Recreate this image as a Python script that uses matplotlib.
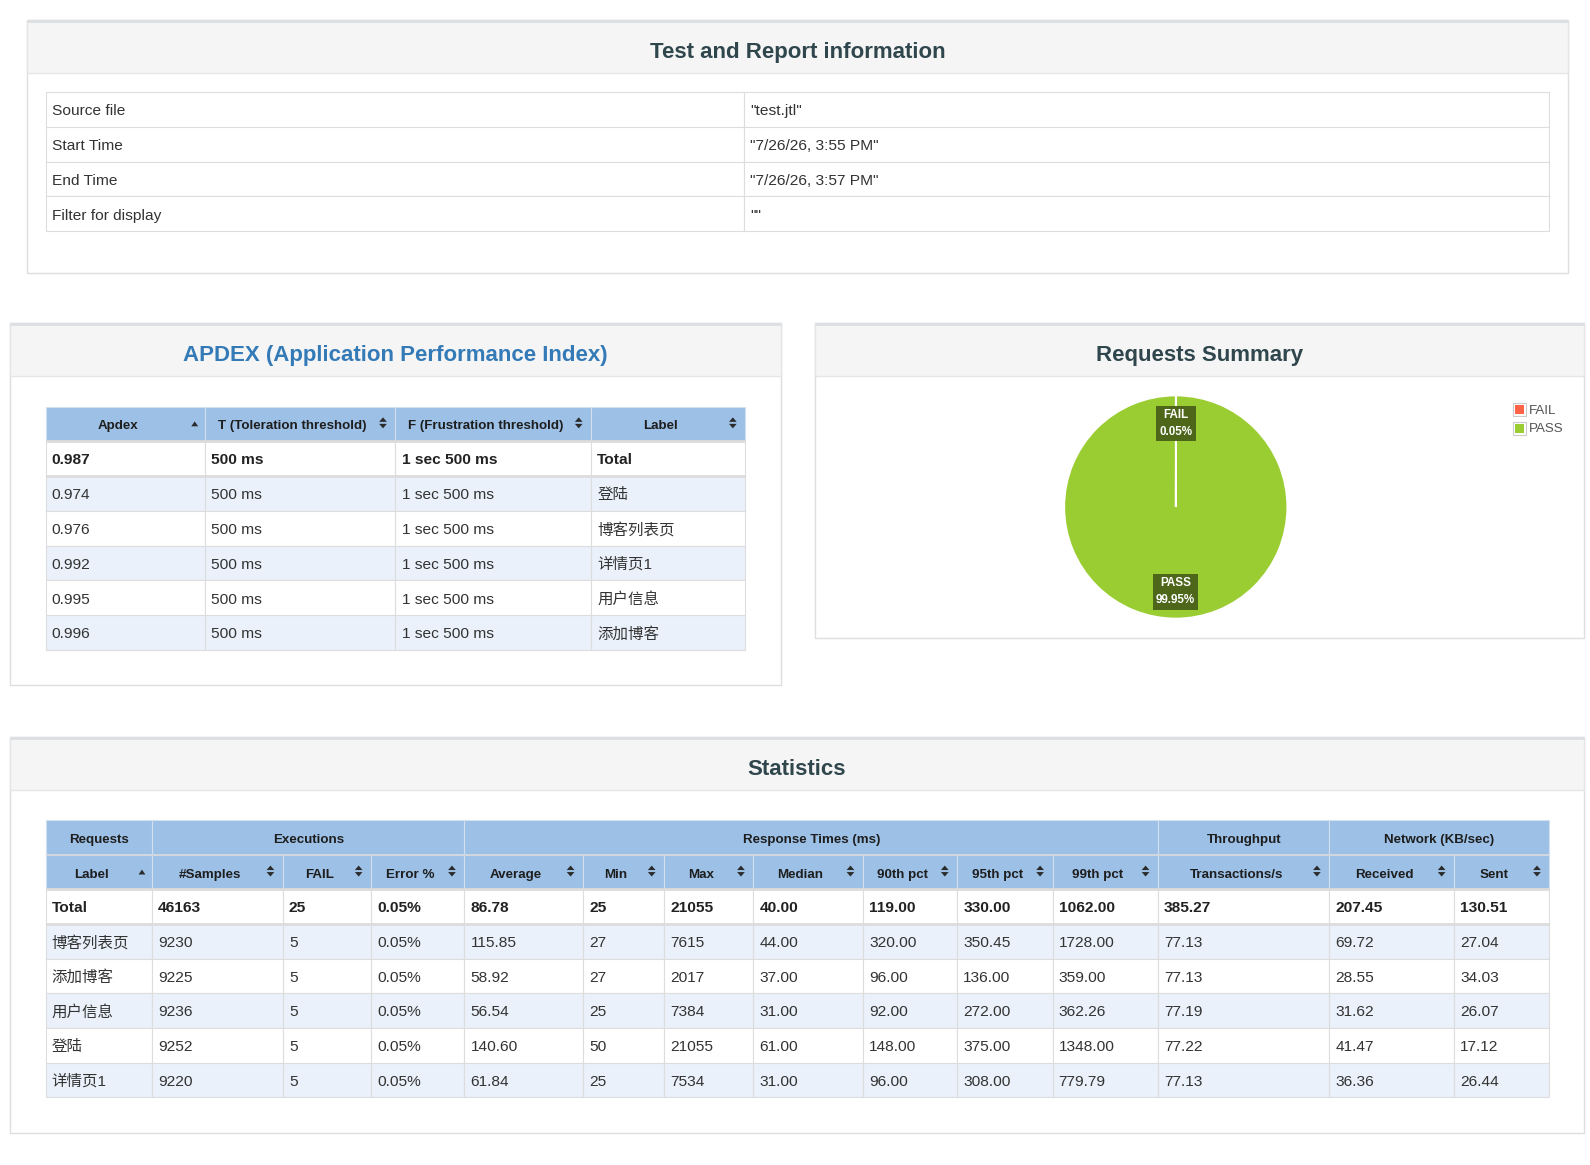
import numpy as np
import matplotlib
matplotlib.use('Agg')
import matplotlib.pyplot as plt
from matplotlib.patches import Rectangle, Polygon

plt.rcParams['font.family'] = ['Liberation Sans', 'Noto Sans CJK SC', 'DejaVu Sans']

W, H = 1590, 1165
S = 1590 / 1568          # layout below is measured on a 1568-wide grid
DW, DH = W / S, H / S

# ---- data ----
info_keys = ['Source file', 'Start Time', 'End Time', 'Filter for display']
info_values = ['"test.jtl"', '"7/26/26, 3:55 PM"', '"7/26/26, 3:57 PM"', '""']

apdex_headers = ['Apdex', 'T (Toleration threshold)', 'F (Frustration threshold)', 'Label']
apdex_sort = ['up', 'both', 'both', 'both']
apdex_scores = [0.987, 0.974, 0.976, 0.992, 0.995, 0.996]
apdex_t = ['500 ms'] * 6
apdex_f = ['1 sec 500 ms'] * 6
apdex_labels = ['Total', '登陆', '博客列表页', '详情页1', '用户信息', '添加博客']

summary_labels = ['FAIL', 'PASS']
summary_counts = [25, 46138]
summary_colors = ['#ff6347', '#9acd32']

stats_groups = ['Requests', 'Executions', 'Response Times (ms)', 'Throughput', 'Network (KB/sec)']
stats_group_span = [1, 3, 7, 1, 2]
stats_headers = ['Label', '#Samples', 'FAIL', 'Error %', 'Average', 'Min', 'Max', 'Median',
                 '90th pct', '95th pct', '99th pct', 'Transactions/s', 'Received', 'Sent']
stats_sort = ['up'] + ['both'] * 13
stats_labels = ['Total', '博客列表页', '添加博客', '用户信息', '登陆', '详情页1']
stats_samples = [46163, 9230, 9225, 9236, 9252, 9220]
stats_fail = [25, 5, 5, 5, 5, 5]
stats_error = [0.05, 0.05, 0.05, 0.05, 0.05, 0.05]
stats_avg = [86.78, 115.85, 58.92, 56.54, 140.60, 61.84]
stats_min = [25, 27, 27, 25, 50, 25]
stats_max = [21055, 7615, 2017, 7384, 21055, 7534]
stats_median = [40.00, 44.00, 37.00, 31.00, 61.00, 31.00]
stats_p90 = [119.00, 320.00, 96.00, 92.00, 148.00, 96.00]
stats_p95 = [330.00, 350.45, 136.00, 272.00, 375.00, 308.00]
stats_p99 = [1062.00, 1728.00, 359.00, 362.26, 1348.00, 779.79]
stats_tps = [385.27, 77.13, 77.13, 77.19, 77.22, 77.13]
stats_recv = [207.45, 69.72, 28.55, 31.62, 41.47, 36.36]
stats_sent = [130.51, 27.04, 34.03, 26.07, 17.12, 26.44]

# ---- style ----
TITLE_C = '#2f464d'
TEXT_C = '#333333'
HEAD_BG = '#9cc0e6'
ODD_BG = '#eaf1fa'
LINE_C = '#dddddd'

fig = plt.figure(figsize=(W / 100, H / 100), dpi=100)
ax = fig.add_axes([0, 0, 1, 1])
ax.set_xlim(0, DW)
ax.set_ylim(DH, 0)
ax.axis('off')


def fs(pt):
    return pt * S


def panel(x0, y0, x1, y1, title, color=TITLE_C, hdr=52):
    ax.add_patch(Rectangle((x0, y0), x1 - x0, y1 - y0, facecolor='white',
                           edgecolor='#dedede', lw=1))
    ax.add_patch(Rectangle((x0, y0), x1 - x0, hdr, facecolor='#f5f5f5',
                           edgecolor='#e6e6e6', lw=1))
    ax.plot([x0, x1], [y0 + 1, y0 + 1], color='#dcdfe2', lw=2, solid_capstyle='butt')
    ax.text((x0 + x1) / 2, y0 + 32, title, fontsize=fs(15.8), fontweight='bold',
            color=color, ha='center', va='center')


def sort_icon(x, y, kind):
    c = '#2b2b2b'
    if kind == 'up':
        ax.add_patch(Polygon([(x - 3.4, y + 2.4), (x + 3.4, y + 2.4), (x, y - 2.4)],
                             closed=True, facecolor=c, edgecolor='none'))
    else:
        ax.add_patch(Polygon([(x - 3.8, y - 1.0), (x + 3.8, y - 1.0), (x, y - 5.4)],
                             closed=True, facecolor=c, edgecolor='none'))
        ax.add_patch(Polygon([(x - 3.8, y + 1.0), (x + 3.8, y + 1.0), (x, y + 5.4)],
                             closed=True, facecolor=c, edgecolor='none'))


def header_row(cols, y0, y1, names, sorts=None):
    for i, name in enumerate(names):
        l, r = cols[i], cols[i + 1]
        ax.add_patch(Rectangle((l, y0), r - l, y1 - y0, facecolor=HEAD_BG,
                               edgecolor='#d3e0ee', lw=0.8))
        yc = (y0 + y1) / 2
        if sorts is None:
            ax.text((l + r) / 2, yc + 2.5, name, fontsize=fs(9.5), fontweight='bold',
                    color='#1e1e1e', ha='center', va='center')
        else:
            ax.text((l + r - 15) / 2, yc + 2.5, name, fontsize=fs(9.5), fontweight='bold',
                    color='#1e1e1e', ha='center', va='center')
            if sorts[i] == 'up':
                sort_icon(r - 10, yc, 'up')
            else:
                sort_icon(r - 12.3, yc - 1, 'both')


def body(cols, rows, cells, zebra=True, bold_first=True):
    for j, row in enumerate(cells):
        y0, y1 = rows[j], rows[j + 1]
        bg = ODD_BG if (zebra and j % 2 == 1) else 'white'
        for i, txt in enumerate(row):
            l, r = cols[i], cols[i + 1]
            ax.add_patch(Rectangle((l, y0), r - l, y1 - y0, facecolor=bg,
                                   edgecolor=LINE_C, lw=0.8))
            bold = bold_first and j == 0
            ax.text(l + 6, (y0 + y1) / 2 + 1.8, txt, fontsize=fs(11),
                    fontweight='bold' if bold else 'normal',
                    color='#222222' if bold else TEXT_C, ha='left', va='center')
    if bold_first:
        for yy in (rows[0], rows[1]):
            ax.plot([cols[0], cols[-1]], [yy, yy], color='#dcdcdc', lw=2,
                    solid_capstyle='butt')


# ---- panel 1: test and report information ----
panel(27, 20, 1546, 269, 'Test and Report information')
info_cols = [45, 734, 1528]
info_rows = np.linspace(91, 228, len(info_keys) + 1)
body(info_cols, info_rows, list(zip(info_keys, info_values)), zebra=False, bold_first=False)

# ---- panel 2: APDEX ----
panel(10, 319, 770, 676, 'APDEX (Application Performance Index)', color='#337ab7')
apdex_cols = [45, 202, 390, 583, 735]
header_row(apdex_cols, 401, 435, apdex_headers, apdex_sort)
apdex_rows = np.linspace(435, 641, len(apdex_scores) + 1)
apdex_cells = [[f'{s:.3f}', t, f, lab] for s, t, f, lab in
               zip(apdex_scores, apdex_t, apdex_f, apdex_labels)]
body(apdex_cols, apdex_rows, apdex_cells)

# ---- panel 3: requests summary ----
panel(804, 319, 1562, 629, 'Requests Summary')
cx, cy, rad = 1159.5, 500, 110
pax = fig.add_axes([(cx - rad) / DW, 1 - (cy + rad) / DH, 2 * rad / DW, 2 * rad / DH])
wedges, _ = pax.pie(summary_counts, colors=summary_colors, startangle=90,
                    counterclock=False, wedgeprops=dict(edgecolor='white', linewidth=1.3))
pax.set_xlim(-1.0, 1.0)
pax.set_ylim(-1.0, 1.0)
for w in wedges:
    w.set_clip_on(False)
total = sum(summary_counts)
cum = 0
for lab, cnt in zip(summary_labels, summary_counts):
    frac = cnt / total
    ang = np.deg2rad(90 - 360 * (cum + frac / 2))
    cum += frac
    pax.text(0.755 * np.cos(ang), 0.755 * np.sin(ang) - 0.005, f'{lab}\n{frac * 100:.2f}%',
             fontsize=fs(8.3), fontweight='bold', color='white', ha='center', va='center',
             linespacing=1.55,
             bbox=dict(boxstyle='square,pad=0.28', facecolor='#4d6619', edgecolor='none'))

for k, (lab, col) in enumerate(zip(summary_labels, summary_colors)):
    yy = 397.5 + k * 18.5
    ax.add_patch(Rectangle((1492, yy), 13, 13, facecolor='white', edgecolor='#cccccc', lw=0.8))
    ax.add_patch(Rectangle((1494, yy + 2), 9, 9, facecolor=col, edgecolor='none'))
    ax.text(1508, yy + 7.5, lab, fontsize=fs(9.5), color='#545454', ha='left', va='center')

# ---- panel 4: statistics ----
panel(10, 727, 1562, 1117, 'Statistics')
stats_cols = [45, 150, 279, 366, 458, 575, 655, 743, 851, 944, 1038, 1142, 1311, 1434, 1528]
group_edges = [stats_cols[k] for k in np.concatenate([[0], np.cumsum(stats_group_span)])]
header_row(group_edges, 809, 843, stats_groups)
header_row(stats_cols, 843, 877, stats_headers, stats_sort)
ax.plot([45, 1528], [843, 843], color='#d0d7df', lw=1.5, solid_capstyle='butt')
stats_rows = np.linspace(877, 1082, len(stats_labels) + 1)
stats_cells = []
for j in range(len(stats_labels)):
    stats_cells.append([
        stats_labels[j], f'{stats_samples[j]}', f'{stats_fail[j]}', f'{stats_error[j]:.2f}%',
        f'{stats_avg[j]:.2f}', f'{stats_min[j]}', f'{stats_max[j]}', f'{stats_median[j]:.2f}',
        f'{stats_p90[j]:.2f}', f'{stats_p95[j]:.2f}', f'{stats_p99[j]:.2f}',
        f'{stats_tps[j]:.2f}', f'{stats_recv[j]:.2f}', f'{stats_sent[j]:.2f}'])
body(stats_cols, stats_rows, stats_cells)

fig.savefig('out.png', dpi=100)
